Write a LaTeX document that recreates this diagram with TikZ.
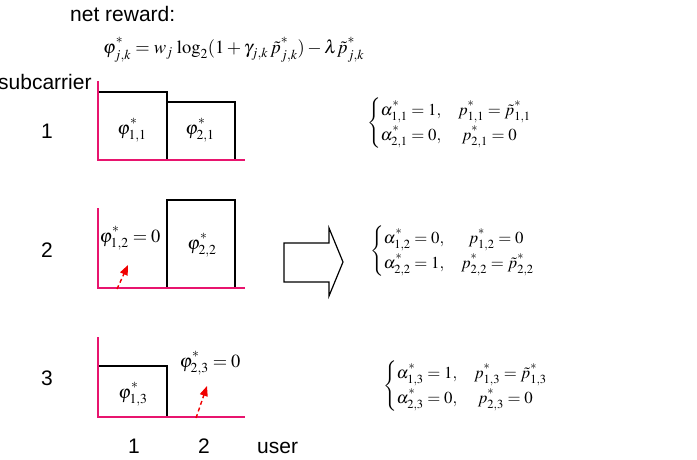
\documentclass[tikz,border=0pt]{standalone}
\usepackage{mathptmx}
\usepackage[no-math]{fontspec}
\setmainfont{Liberation Sans}
\usetikzlibrary{arrows.meta}
\definecolor{axpink}{RGB}{232,20,110}
\definecolor{arred}{RGB}{240,0,0}
\newcommand{\stx}{\raisebox{0.18em}{$\scriptstyle *$}}
\begin{document}
\begin{tikzpicture}[x=1pt,y=-1pt,
  axisline/.style={draw=axpink,line width=1.6pt},
  barline/.style={draw=black,line width=1.3pt},
  lbl/.style={inner sep=0pt,font=\fontsize{21}{24}\selectfont},
  mth/.style={inner sep=0pt,font=\fontsize{18.5}{22}\selectfont},
  eqs/.style={inner sep=0pt,font=\fontsize{16.8}{20}\selectfont},
  redarrow/.style={draw=arred,line width=1.4pt,dash pattern=on 4pt off 3pt,-{Triangle[length=10pt,width=8pt]}},
  bigarrow/.style={draw=black,line width=1.2pt,fill=white}]
\useasboundingbox (0,0) rectangle (697,460);
% title
\node[lbl,anchor=base west] (title) at (70,22) {net reward:};
\node[mth,anchor=base west] (formula) at (103,54) {$\varphi^{\stx}_{j,k}=w_j\,\log_2(1+\gamma_{j,k}\,\tilde{p}^{\stx}_{j,k})-\lambda\tilde{p}^{\stx}_{j,k}$};
\node[lbl,anchor=base west] (sub) at (-2,90) {subcarrier};
% row labels
\node[lbl] (r1) at (47,131) {1};
\node[lbl] (r2) at (47,250) {2};
\node[lbl] (r3) at (47,378) {3};
% user labels
\node[lbl,anchor=base] (u1) at (134,453) {1};
\node[lbl,anchor=base] (u2) at (204,453) {2};
\node[lbl,anchor=base west] (ul) at (257,453) {user};
% chart 1
\draw[barline] (98,160) |- (167,92) -- (167,160);
\draw[barline] (167,102) -- (235,102) -- (235,160);
\draw[axisline] (98,81) -- (98,161);
\draw[axisline] (97,160) -- (245,160);
\node[mth] (p11) at (132,130) {$\varphi^{\stx}_{1,1}$};
\node[mth] (p21) at (200,130) {$\varphi^{\stx}_{2,1}$};
% chart 2
\draw[barline] (167,288) -- (167,200) -- (235,200) -- (235,288);
\draw[axisline] (98,208) -- (98,289);
\draw[axisline] (97,288) -- (245,288);
\node[mth] (p22) at (202,245) {$\varphi^{\stx}_{2,2}$};
\node[mth] (p12) at (130,238) {$\varphi^{\stx}_{1,2}=0$};
\coordinate (a2s) at (117,289);
\coordinate (a2e) at (128,265);
\draw[redarrow] (a2s) -- (a2e);
% chart 3
\draw[barline] (98,366) -- (167,366) -- (167,417);
\draw[axisline] (98,337) -- (98,418);
\draw[axisline] (97,417) -- (245,417);
\node[mth] (p13) at (133,394) {$\varphi^{\stx}_{1,3}$};
\node[mth] (p23) at (210,363) {$\varphi^{\stx}_{2,3}=0$};
\coordinate (a3s) at (196,418);
\coordinate (a3e) at (207,386);
\draw[redarrow] (a3s) -- (a3e);
% big arrow
\draw[bigarrow] (284,243) -- (329,243) -- (329,228) -- (343,262) -- (329,296) -- (329,282) -- (284,282) -- cycle;
% equations
\def\arraystretch{1.25}
\node[eqs,anchor=west] (e1) at (367,123) {$\left\{\begin{array}{@{}l@{\quad}l@{}}\alpha^{\stx}_{1,1}=1, & p^{\stx}_{1,1}=\tilde{p}^{\stx}_{1,1}\\ \alpha^{\stx}_{2,1}=0, & \;p^{\stx}_{2,1}=0\end{array}\right.$};
\node[eqs,anchor=west] (e2) at (370,251) {$\left\{\begin{array}{@{}l@{\quad}l@{}}\alpha^{\stx}_{1,2}=0, & \;\;p^{\stx}_{1,2}=0\\ \alpha^{\stx}_{2,2}=1, & p^{\stx}_{2,2}=\tilde{p}^{\stx}_{2,2}\end{array}\right.$};
\node[eqs,anchor=west] (e3) at (383,386) {$\left\{\begin{array}{@{}l@{\quad}l@{}}\alpha^{\stx}_{1,3}=1, & p^{\stx}_{1,3}=\tilde{p}^{\stx}_{1,3}\\ \alpha^{\stx}_{2,3}=0, & \;p^{\stx}_{2,3}=0\end{array}\right.$};
\end{tikzpicture}
\end{document}
